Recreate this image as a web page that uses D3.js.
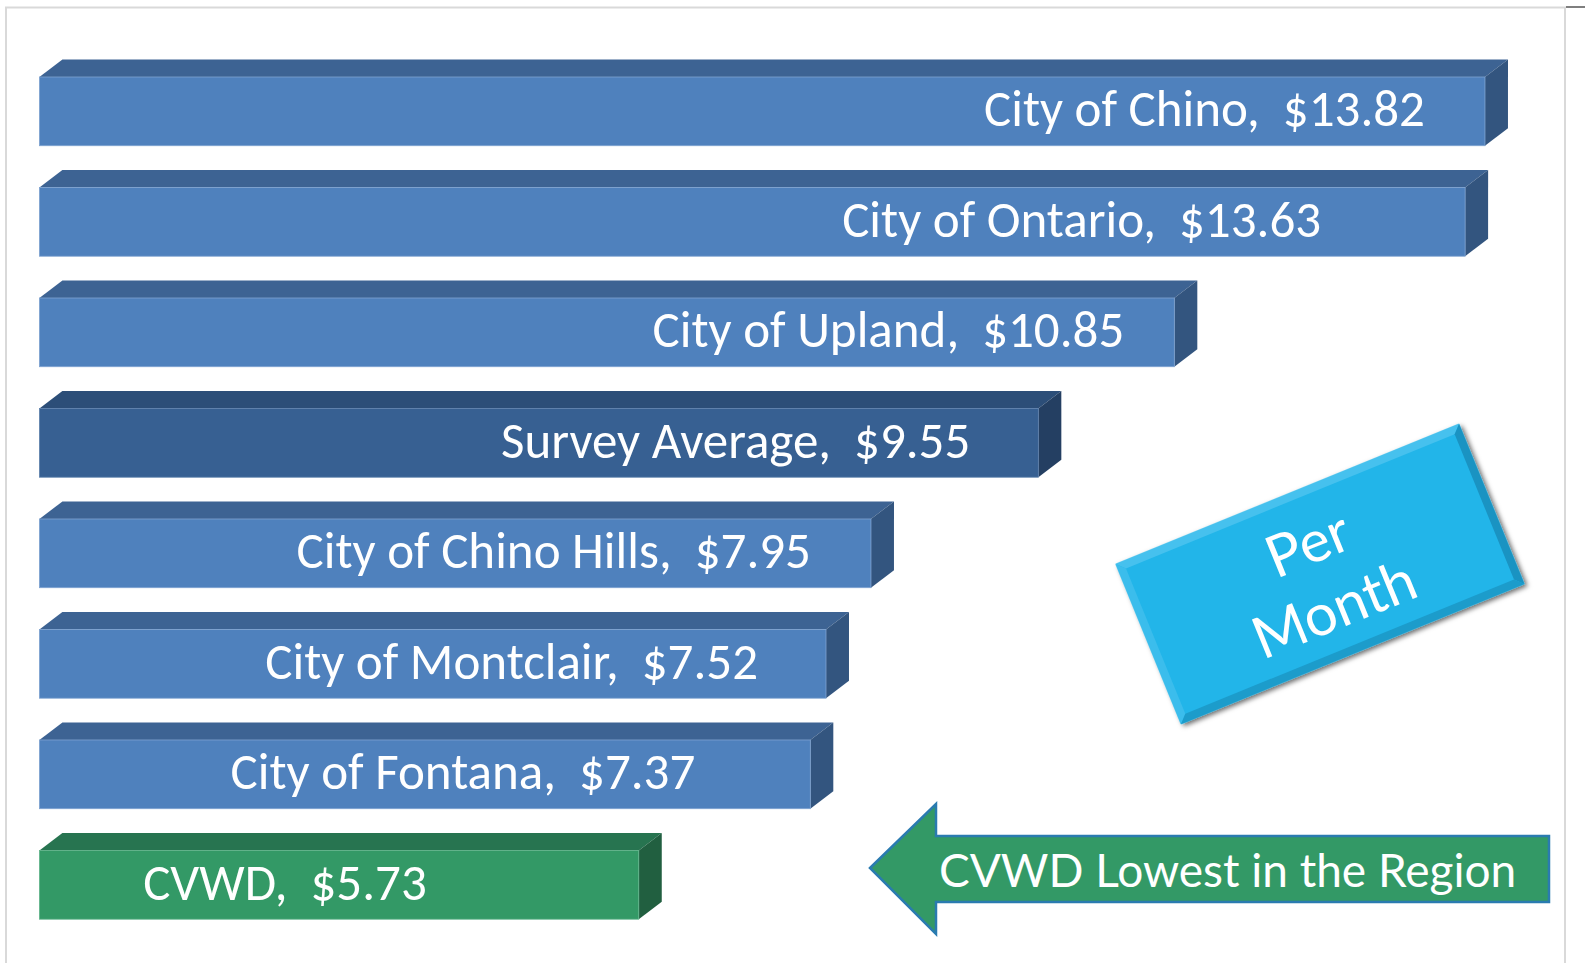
<!DOCTYPE html>
<html>
<head>
<meta charset="utf-8">
<script src="https://cdn.jsdelivr.net/npm/d3@7"></script>
<style>
  body { margin: 0; background: #fff; }
  svg { display: block; }
  .bar-label { font-family: Carlito, Calibri, Lato, sans-serif; font-size: 51px; fill: #fff; white-space: pre; }
  .note { font-family: "Gill Sans MT", "Gill Sans", Lato, sans-serif; fill: #fff; }
</style>
</head>
<body>
<svg id="chart"></svg>
<script>
// monthly rates by agency
const agencies = ["City of Chino", "City of Ontario", "City of Upland", "Survey Average",
  "City of Chino Hills", "City of Montclair", "City of Fontana", "CVWD"];
const rates = [13.82, 13.63, 10.85, 9.55, 7.95, 7.52, 7.37, 5.73];
const kinds = ["city", "city", "city", "average", "city", "city", "city", "cvwd"];

// where each label's right end sits, in px left of its bar end
const labelGap = [60, 144, 50, 68, 60, 68, 115, 212];

const W = 1585, H = 963;
const depth = { dx: 23, dy: 17.5 };

const palette = {
  city:    { front: "#4f81bd", top: "#3d6393", side: "#33557f", edge: "#7fa3d1" },
  average: { front: "#376092", top: "#2c4e78", side: "#243f62", edge: "#5f82ad" },
  cvwd:    { front: "#339966", top: "#277450", side: "#215f40", edge: "#62b58c" }
};

const svg = d3.select("#chart").attr("width", W).attr("height", H);

// frame
const frame = svg.append("g").attr("fill", "none");
frame.append("path")
  .attr("d", `M6,${H} V7.5 H1565 V${H}`)
  .attr("stroke", "#d9d9d9").attr("stroke-width", 2);
frame.append("line")
  .attr("x1", 1566).attr("x2", W).attr("y1", 7).attr("y2", 7)
  .attr("stroke", "#7f7f7f").attr("stroke-width", 2);

const x = d3.scaleLinear().domain([0, 14]).range([39.4, 39.4 + 14 * 104.6]);
const y = d3.scaleBand()
  .domain(agencies)
  .range([77, 77 + 7 * 110.5 + 68.7])
  .paddingInner(0.378)
  .paddingOuter(0);

const data = agencies.map((name, i) => ({ name, rate: rates[i], kind: kinds[i], gap: labelGap[i] }));

const bars = svg.selectAll(".bar")
  .data(data)
  .join("g")
  .attr("class", "bar");

// top face
bars.append("path")
  .attr("fill", d => palette[d.kind].top)
  .attr("d", d => {
    const x0 = x(0), x1 = x(d.rate), y0 = y(d.name);
    return `M${x0},${y0} L${x0 + depth.dx},${y0 - depth.dy} L${x1 + depth.dx},${y0 - depth.dy} L${x1},${y0} Z`;
  });

// side face
bars.append("path")
  .attr("fill", d => palette[d.kind].side)
  .attr("d", d => {
    const x1 = x(d.rate), y0 = y(d.name), y1 = y0 + y.bandwidth();
    return `M${x1},${y0} L${x1 + depth.dx},${y0 - depth.dy} L${x1 + depth.dx},${y1 - depth.dy} L${x1},${y1} Z`;
  });

// front face
bars.append("rect")
  .attr("x", x(0))
  .attr("y", d => y(d.name))
  .attr("width", d => x(d.rate) - x(0))
  .attr("height", y.bandwidth())
  .attr("fill", d => palette[d.kind].front)
  .attr("stroke", d => palette[d.kind].edge)
  .attr("stroke-width", 0.8);

bars.append("text")
  .attr("class", "bar-label")
  .attr("text-anchor", "end")
  .attr("x", d => x(d.rate) - d.gap)
  .attr("y", d => y(d.name) + y.bandwidth() / 2 + 15)
  .text(d => `${d.name},  $${d.rate.toFixed(2)}`);

// "Per Month" bevelled box
const defs = svg.append("defs");
defs.append("filter").attr("id", "shadow")
  .attr("x", "-20%").attr("y", "-20%").attr("width", "140%").attr("height", "140%")
  .append("feDropShadow")
  .attr("dx", 2).attr("dy", 3).attr("stdDeviation", 2.5)
  .attr("flood-color", "#000").attr("flood-opacity", 0.6);

const bw = 371, bh = 173, bev = 8;
const box = svg.append("g")
  .attr("transform", "translate(1320,574) rotate(-22.2)");
const bevel = box.append("g").attr("filter", "url(#shadow)");
bevel.append("rect")
  .attr("x", -bw / 2).attr("y", -bh / 2).attr("width", bw).attr("height", bh)
  .attr("fill", "#21b5e9");
const L = -bw / 2, R = bw / 2, T = -bh / 2, B = bh / 2;
const faces = [
  { c: "#46c1ee", p: [[L, T], [R, T], [R - bev, T + bev], [L + bev, T + bev]] },
  { c: "#3bbdec", p: [[L, T], [L + bev, T + bev], [L + bev, B - bev], [L, B]] },
  { c: "#1a93c2", p: [[R, T], [R, B], [R - bev, B - bev], [R - bev, T + bev]] },
  { c: "#1c9ccb", p: [[L, B], [L + bev, B - bev], [R - bev, B - bev], [R, B]] }
];
box.selectAll(".bevel")
  .data(faces)
  .join("path")
  .attr("class", "bevel")
  .attr("fill", d => d.c)
  .attr("d", d => d3.line()(d.p) + "Z");
box.append("text").attr("class", "note")
  .attr("text-anchor", "middle").attr("x", 0).attr("y", -12)
  .style("font-size", "58px").text("Per");
box.append("text").attr("class", "note")
  .attr("text-anchor", "middle").attr("x", 0).attr("y", 58)
  .style("font-size", "58px").text("Month");

// arrow call-out
const arrowPts = [[870, 868], [936, 804], [936, 836], [1549, 836], [1549, 902], [936, 902], [936, 934]];
svg.append("path")
  .attr("d", d3.line()(arrowPts) + "Z")
  .attr("fill", "#339966")
  .attr("stroke", "#2a7bb0")
  .attr("stroke-width", 2.5)
  .attr("stroke-linejoin", "miter");
svg.append("text").attr("class", "note")
  .attr("x", 939).attr("y", 887)
  .style("font-size", "46px")
  .text("CVWD Lowest in the Region");
</script>
</body>
</html>
